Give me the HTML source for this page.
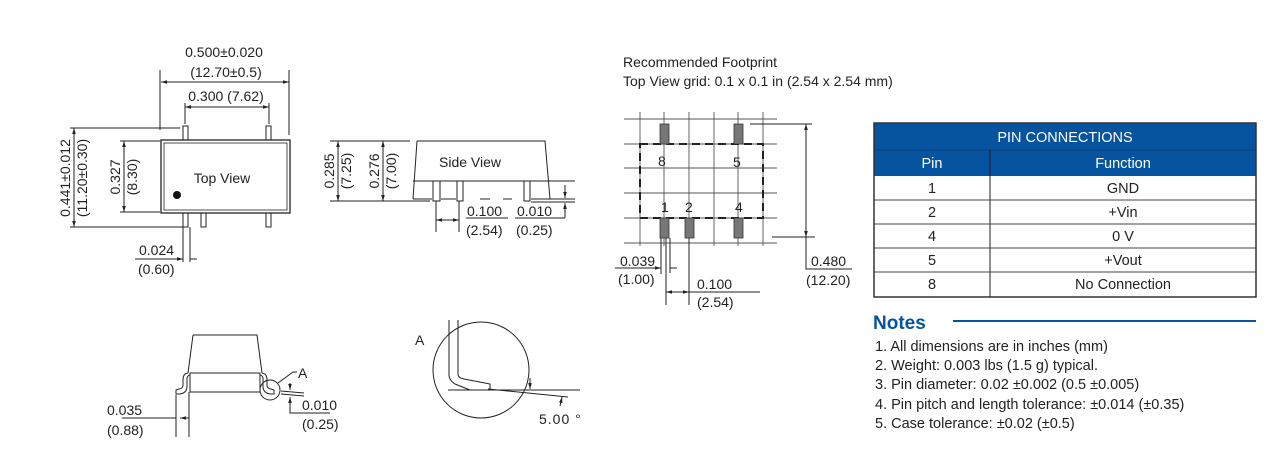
<!DOCTYPE html>
<html><head><meta charset="utf-8"><style>
html,body{margin:0;padding:0;background:#fff;}
svg{display:block;font-family:"Liberation Sans",Arial,sans-serif;}
</style></head><body>
<svg width="1280" height="465" viewBox="0 0 1280 465" xmlns="http://www.w3.org/2000/svg">
<defs>
<marker id="a" viewBox="0 0 10 10" refX="10" refY="5" markerWidth="6" markerHeight="6" orient="auto-start-reverse"><path d="M0,2 L10,5 L0,8z" fill="#222"/></marker>
</defs>
<g stroke="#222" stroke-width="1" fill="none">
<!-- TOP VIEW -->
<rect x="161" y="140" width="129" height="73" stroke-width="1.3"/>
<rect x="164" y="143" width="123" height="67" stroke-width="0.8"/>
<rect x="183" y="126" width="5" height="14"/>
<rect x="266" y="126" width="5" height="14"/>
<rect x="183" y="213" width="5" height="14"/>
<rect x="201" y="213" width="5" height="14"/>
<rect x="266" y="213" width="5" height="14"/>
<line x1="160" y1="70" x2="160" y2="130"/><line x1="289" y1="70" x2="289" y2="135"/>
<line x1="161" y1="82" x2="289" y2="82" marker-start="url(#a)" marker-end="url(#a)"/>
<line x1="185" y1="103" x2="185" y2="124"/><line x1="269" y1="103" x2="269" y2="124"/>
<line x1="185" y1="107" x2="269" y2="107" marker-start="url(#a)" marker-end="url(#a)"/>
<line x1="70" y1="128" x2="180" y2="128"/><line x1="70" y1="227" x2="186" y2="227"/>
<line x1="74" y1="128" x2="74" y2="227" marker-start="url(#a)" marker-end="url(#a)"/>
<line x1="120" y1="141" x2="160" y2="141"/><line x1="120" y1="212" x2="160" y2="212"/>
<line x1="124" y1="141" x2="124" y2="212" marker-start="url(#a)" marker-end="url(#a)"/>
<line x1="183" y1="227" x2="183" y2="262"/><line x1="190" y1="227" x2="190" y2="262"/>
<line x1="135" y1="259" x2="183" y2="259" marker-end="url(#a)"/>
<line x1="190" y1="259" x2="197" y2="259"/>
<!-- SIDE VIEW -->
<path d="M417,141 L545,141 L550,199 M417,141 L413,199 L413,199"/>
<line x1="413" y1="181" x2="575" y2="181"/>
<line x1="413" y1="199" x2="432" y2="199"/><line x1="441" y1="199" x2="456" y2="199"/><line x1="480" y1="199" x2="490" y2="199"/><line x1="503" y1="199" x2="512" y2="199"/><line x1="531" y1="199" x2="575" y2="199"/>
<line x1="531" y1="202" x2="575" y2="202"/>
<rect x="433" y="181" width="7" height="20"/><rect x="457" y="181" width="6" height="20"/><rect x="524" y="181" width="6" height="20"/>
<line x1="330" y1="141" x2="410" y2="141"/><line x1="330" y1="201" x2="430" y2="201"/>
<line x1="338" y1="141" x2="338" y2="201" marker-start="url(#a)" marker-end="url(#a)"/>
<line x1="383" y1="141" x2="383" y2="201" marker-start="url(#a)" marker-end="url(#a)"/>
<line x1="436" y1="201" x2="436" y2="232"/><line x1="459" y1="201" x2="459" y2="232"/>
<line x1="436" y1="220" x2="459" y2="220" marker-start="url(#a)" marker-end="url(#a)"/>
<line x1="466" y1="218" x2="508" y2="218"/><line x1="515" y1="218" x2="565" y2="218"/>
<line x1="565" y1="185" x2="565" y2="198" marker-end="url(#a)"/><line x1="565" y1="215" x2="565" y2="203" marker-end="url(#a)"/><line x1="565" y1="203" x2="565" y2="218"/>
<!-- FOOTPRINT -->
<g stroke="#555" stroke-width="0.9">
<line x1="640" y1="112" x2="640" y2="246"/><line x1="664" y1="112" x2="664" y2="246"/><line x1="689" y1="112" x2="689" y2="246"/><line x1="714" y1="112" x2="714" y2="246"/><line x1="738" y1="112" x2="738" y2="246"/><line x1="763" y1="112" x2="763" y2="246"/>
<line x1="624" y1="119" x2="777" y2="119"/><line x1="624" y1="144" x2="777" y2="144"/><line x1="624" y1="168" x2="777" y2="168"/><line x1="624" y1="193" x2="777" y2="193"/><line x1="624" y1="218" x2="777" y2="218"/><line x1="624" y1="243" x2="777" y2="243"/>
</g>
<rect x="640" y="144" width="123" height="74" stroke="#222" stroke-width="2" stroke-dasharray="8,5"/>
<g fill="#777" stroke="#333" stroke-width="0.8">
<rect x="660" y="124" width="9" height="20"/><rect x="734" y="124" width="9" height="20"/>
<rect x="660" y="218" width="9" height="20"/><rect x="685" y="218" width="9" height="20"/><rect x="734" y="218" width="9" height="20"/>
</g>
<line x1="750" y1="124" x2="812" y2="124"/><line x1="772" y1="237" x2="815" y2="237"/>
<line x1="806" y1="124" x2="806" y2="237" marker-start="url(#a)" marker-end="url(#a)"/>
<polyline points="806,237 806,269 852,269"/>
<line x1="661" y1="238" x2="661" y2="274"/><line x1="666" y1="238" x2="666" y2="305"/><line x1="670" y1="238" x2="670" y2="273"/><line x1="689" y1="238" x2="689" y2="305"/>
<line x1="615" y1="268" x2="661" y2="268" marker-end="url(#a)"/><line x1="670" y1="268" x2="677" y2="268"/>
<line x1="666" y1="292" x2="689" y2="292" marker-start="url(#a)" marker-end="url(#a)"/>
<line x1="689" y1="292" x2="760" y2="292"/>
<!-- BOTTOM LEFT VIEW -->
<path d="M193,335 L257,335 L262,373 M193,335 L188,373"/>
<rect x="190" y="373" width="70" height="19"/>
<path d="M188,373 L185,374 Q183,376 183,380 L183,386 Q182,389 179,389 L176,390 L176,394 L180,394 Q187,393 187,386 L187,378 Q188,375 190,375"/>
<path d="M262,373 L265,374 Q267,376 267,380 L267,386 Q268,389 271,389 L274,390 L274,394 L270,394 Q263,393 263,386 L263,378 Q262,375 260,375"/>
<circle cx="270" cy="390" r="10"/>
<polyline points="278,383 293,372 297,372"/>
<line x1="176" y1="395" x2="176" y2="437"/><line x1="189" y1="392" x2="189" y2="437"/>
<line x1="122" y1="418" x2="176" y2="418"/><line x1="189" y1="418" x2="180" y2="418" marker-end="url(#a)"/>
<line x1="281" y1="391" x2="304" y2="393"/><line x1="281" y1="394" x2="304" y2="396"/>
<line x1="290" y1="383" x2="290" y2="390" marker-end="url(#a)"/><line x1="290" y1="404" x2="290" y2="397" marker-end="url(#a)"/>
<polyline points="290,397 290,413 330,413"/>
<!-- DETAIL A -->
<circle cx="481" cy="370" r="48"/>
<path d="M449,320 L449,375 Q449,380 455,384 L470,390"/>
<path d="M458,320 L458,374 Q458,378 464,379 L490,384 L490,390"/>
<line x1="448" y1="390" x2="580" y2="390"/>
<line x1="488" y1="389" x2="568" y2="397"/>
<line x1="530" y1="378" x2="530" y2="389" marker-end="url(#a)"/>
<line x1="560" y1="406" x2="562" y2="397" marker-end="url(#a)"/>
</g>
<circle cx="177" cy="195" r="4" fill="#111"/>
<g fill="#222" font-size="14">
<text x="224" y="57" text-anchor="middle">0.500±0.020</text>
<text x="226" y="77" text-anchor="middle">(12.70±0.5)</text>
<text x="226" y="101" text-anchor="middle">0.300 (7.62)</text>
<text x="222" y="183" text-anchor="middle">Top View</text>
<text transform="translate(70,178) rotate(-90)" text-anchor="middle">0.441±0.012</text>
<text transform="translate(87,178) rotate(-90)" text-anchor="middle">(11.20±0.30)</text>
<text transform="translate(120,177) rotate(-90)" text-anchor="middle">0.327</text>
<text transform="translate(137,177) rotate(-90)" text-anchor="middle">(8.30)</text>
<text x="139" y="255">0.024</text><text x="138" y="274">(0.60)</text>
<text x="439" y="167">Side View</text>
<text transform="translate(334,171) rotate(-90)" text-anchor="middle">0.285</text>
<text transform="translate(351,171) rotate(-90)" text-anchor="middle">(7.25)</text>
<text transform="translate(379,171) rotate(-90)" text-anchor="middle">0.276</text>
<text transform="translate(396,171) rotate(-90)" text-anchor="middle">(7.00)</text>
<text x="467" y="216">0.100</text><text x="466" y="235">(2.54)</text>
<text x="517" y="216">0.010</text><text x="516" y="235">(0.25)</text>
<text x="623" y="67">Recommended Footprint</text>
<text x="623" y="86">Top View grid: 0.1 x 0.1 in (2.54 x 2.54 mm)</text>
<text x="658" y="166">8</text><text x="733" y="167">5</text><text x="661" y="212">1</text><text x="685" y="212">2</text><text x="735" y="212">4</text>
<text x="620" y="266">0.039</text><text x="618" y="284">(1.00)</text>
<text x="697" y="289">0.100</text><text x="697" y="307">(2.54)</text>
<text x="811" y="266">0.480</text><text x="806" y="285">(12.20)</text>
<text x="107" y="415">0.035</text><text x="107" y="435">(0.88)</text>
<text x="298" y="378">A</text>
<text x="302" y="410">0.010</text><text x="302" y="429">(0.25)</text>
<text x="415" y="345">A</text>
<text x="539" y="424" letter-spacing="1">5.00 °</text>
</g>
<!-- TABLE -->
<rect x="874" y="123" width="382" height="53" fill="#0653a0"/>
<line x1="874" y1="150" x2="1256" y2="150" stroke="#0a3f7a" stroke-width="1"/>
<line x1="990" y1="150" x2="990" y2="297" stroke="#222"/>
<g stroke="#444" stroke-width="1">
<line x1="874" y1="200" x2="1256" y2="200"/><line x1="874" y1="224" x2="1256" y2="224"/><line x1="874" y1="248" x2="1256" y2="248"/><line x1="874" y1="272" x2="1256" y2="272"/>
</g>
<rect x="874" y="123" width="382" height="174" fill="none" stroke="#333" stroke-width="1.5"/>
<g font-size="14.5" text-anchor="middle">
<text x="1065" y="142" fill="#fff">PIN CONNECTIONS</text>
<text x="932" y="168" fill="#fff">Pin</text><text x="1123" y="168" fill="#fff">Function</text>
<g fill="#222">
<text x="932" y="193">1</text><text x="1123" y="193">GND</text>
<text x="932" y="217">2</text><text x="1123" y="217">+Vin</text>
<text x="932" y="241">4</text><text x="1123" y="241">0 V</text>
<text x="932" y="265">5</text><text x="1123" y="265">+Vout</text>
<text x="932" y="289">8</text><text x="1123" y="289">No Connection</text>
</g></g>
<text x="873" y="329" font-size="19" font-weight="bold" fill="#0653a0">Notes</text>
<line x1="953" y1="321" x2="1256" y2="321" stroke="#0653a0" stroke-width="2"/>
<g font-size="14.5" fill="#222">
<text x="875" y="351">1. All dimensions are in inches (mm)</text>
<text x="875" y="370">2. Weight: 0.003 lbs (1.5 g) typical.</text>
<text x="875" y="389">3. Pin diameter: 0.02 ±0.002 (0.5 ±0.005)</text>
<text x="875" y="409">4. Pin pitch and length tolerance: ±0.014 (±0.35)</text>
<text x="875" y="428">5. Case tolerance: ±0.02 (±0.5)</text>
</g>
</svg>
</body></html>
